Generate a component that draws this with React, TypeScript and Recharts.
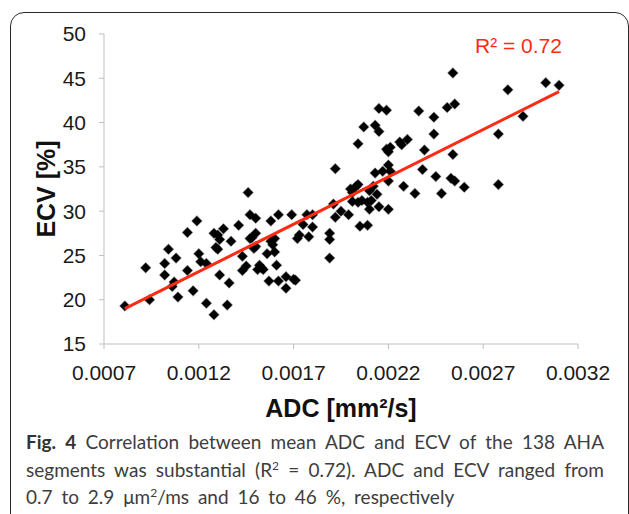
import { Label, Scatter, ScatterChart, XAxis, YAxis } from 'recharts'

// ADC [mm²/s] of each segment
const adc = [
  0.00081, 0.00092, 0.00094, 0.00102, 0.00102, 0.00104, 0.00106, 0.00108, 0.00107, 0.00109,
  0.00114, 0.00114, 0.00117, 0.00119, 0.0012, 0.00121, 0.00124, 0.00124, 0.00128, 0.00128,
  0.0013, 0.0013, 0.00131, 0.00131, 0.00129, 0.00133, 0.00135, 0.00136, 0.00137, 0.00141,
  0.00143, 0.00143, 0.00145, 0.00146, 0.00147, 0.00147, 0.00148, 0.00149, 0.0015, 0.0015,
  0.0015, 0.00151, 0.00152, 0.00153, 0.00154, 0.00156, 0.00157, 0.00158, 0.00158, 0.00159,
  0.0016, 0.0016, 0.00161, 0.00162, 0.00162, 0.00166, 0.00166, 0.00169, 0.0017, 0.00171,
  0.00172, 0.00173, 0.00175, 0.00177, 0.00178, 0.0018, 0.0018, 0.00189, 0.00189, 0.00189,
  0.00191, 0.00192, 0.00192, 0.00195, 0.00199, 0.002, 0.00201, 0.00201, 0.00203, 0.00204,
  0.00204, 0.00204, 0.00205, 0.00206, 0.00207, 0.00209, 0.00209, 0.0021, 0.0021, 0.00211,
  0.00212, 0.00213, 0.00213, 0.00214, 0.00215, 0.00215, 0.00215, 0.00217, 0.00219, 0.00219,
  0.0022, 0.0022, 0.0022, 0.0022, 0.00221, 0.00221, 0.00226, 0.00227, 0.00228, 0.0023,
  0.00234, 0.00236, 0.00238, 0.00239, 0.00244, 0.00244, 0.00245, 0.00248, 0.00251, 0.00253,
  0.00254, 0.00254, 0.00255, 0.00255, 0.0026, 0.00278, 0.00278, 0.00283, 0.00291, 0.00303,
  0.0031,
]

// ECV [%] of each segment
const ecv = [
  19.3, 23.6, 20.0, 22.8, 24.1, 25.7, 21.5, 24.7, 22.0, 20.3,
  27.6, 23.3, 21.0, 28.9, 25.2, 24.3, 24.1, 19.6, 27.5, 18.3,
  27.3, 25.7, 22.8, 26.8, 25.9, 28.0, 19.4, 21.9, 26.6, 28.4,
  24.9, 23.3, 23.8, 32.1, 26.9, 29.6, 27.0, 25.8, 26.0, 27.5,
  29.2, 23.4, 23.9, 23.6, 23.4, 25.2, 22.1, 28.9, 26.6, 26.2,
  25.4, 26.9, 23.9, 29.6, 22.1, 21.3, 22.6, 29.6, 22.3, 22.2,
  26.9, 27.3, 28.5, 29.6, 27.1, 28.2, 29.6, 24.7, 26.8, 27.5,
  30.8, 34.8, 29.3, 30.0, 29.6, 32.5, 32.1, 31.1, 32.8, 33.0,
  37.6, 31.0, 28.3, 31.2, 39.5, 28.4, 31.0, 32.3, 30.2, 31.2,
  32.8, 34.3, 39.7, 31.9, 30.5, 41.6, 39.0, 34.5, 37.0, 41.4,
  36.7, 33.4, 30.2, 35.2, 37.2, 34.5, 37.8, 37.5, 32.8, 38.1,
  32.0, 41.3, 34.7, 36.9, 40.6, 38.7, 33.9, 32.0, 41.7, 33.7,
  45.6, 36.4, 42.1, 33.4, 32.7, 38.7, 33.0, 43.7, 40.7, 44.5,
  44.2,
]

// linear trend line end points
const trendAdc = [0.00081, 0.0031]
const trendEcv = [19.0, 43.5]

const xTicks = [0.0007, 0.0012, 0.0017, 0.0022, 0.0027, 0.0032]
const yTicks = [15, 20, 25, 30, 35, 40, 45, 50]

const points = adc.map((x, i) => ({ adc: x, ecv: ecv[i] }))
const trend = trendAdc.map((x, i) => ({ adc: x, ecv: trendEcv[i] }))

const arial = '"Liberation Sans", Arial, sans-serif'
const tickFont = { fontSize: 21, fill: '#1a1a1a', fontFamily: arial }

function Diamond({ cx, cy }: { cx?: number; cy?: number }) {
  if (cx == null || cy == null) return null
  const r = 5
  return (
    <path
      d={`M${cx},${cy - r}L${cx + r},${cy}L${cx},${cy + r}L${cx - r},${cy}Z`}
      fill="#000"
      stroke="rgba(0,0,0,0.35)"
      strokeWidth={1.2}
    />
  )
}

function YTitle() {
  return (
    <text
      x={46}
      y={189}
      transform="rotate(-90, 46, 189)"
      textAnchor="middle"
      dominantBaseline="central"
      fontSize={25}
      fontWeight="bold"
      fill="#111"
      fontFamily={arial}
    >
      ECV [%]
    </text>
  )
}

const sup = { fontSize: 12, lineHeight: 0 }
const captionLine = {
  height: 27.5,
  textAlign: 'justify' as const,
  whiteSpace: 'nowrap' as const,
}

export default function App() {
  return (
    <div style={{ position: 'absolute', left: 0, top: 0, width: 629, height: 514, background: '#fff', overflow: 'hidden' }}>
      <div
        style={{
          position: 'absolute', left: 10, top: 12, width: 619, height: 520,
          border: '1.5px solid #2a2a2a', borderRadius: 14, boxSizing: 'border-box',
        }}
      />
      <div style={{ position: 'absolute', left: 0, top: 0 }}>
        <ScatterChart width={629} height={430} margin={{ top: 34, right: 51, left: 0, bottom: 0 }}>
          <XAxis
            type="number"
            dataKey="adc"
            domain={[0.0007, 0.0032]}
            ticks={xTicks}
            tickFormatter={(v: number) => v.toFixed(4)}
            height={86}
            stroke="#bfbfbf"
            tickSize={5}
            tickMargin={16}
            tick={tickFont}
          >
            <Label
              value="ADC [mm²/s]"
              position="insideBottom"
              offset={13}
              style={{ fontSize: 25, fontWeight: 'bold', fill: '#111', fontFamily: arial }}
            />
          </XAxis>
          <YAxis
            type="number"
            dataKey="ecv"
            domain={[15, 50]}
            ticks={yTicks}
            width={104}
            stroke="#bfbfbf"
            tickSize={5}
            tickMargin={13}
            tick={tickFont}
          >
            <Label content={<YTitle />} />
          </YAxis>
          <Scatter data={points} shape={<Diamond />} isAnimationActive={false} />
          <Scatter
            data={trend}
            line={{ stroke: '#ff2a12', strokeWidth: 3 }}
            shape={() => <g />}
            isAnimationActive={false}
          />
        </ScatterChart>
      </div>
      <div
        style={{
          position: 'absolute', left: 475, top: 33, fontSize: 21, color: '#ff2a12',
          fontFamily: arial, lineHeight: '26px',
        }}
      >
        R² = 0.72
      </div>
      <div
        style={{
          position: 'absolute', left: 26, top: 428, width: 578, fontSize: 19, lineHeight: '27.5px',
          color: '#3d3d3d', fontFamily: 'Lato, sans-serif',
        }}
      >
        <div style={{ ...captionLine, textAlignLast: 'justify' }}>
          <b style={{ color: '#333' }}>Fig. 4</b> Correlation between mean ADC and ECV of the 138 AHA
        </div>
        <div style={{ ...captionLine, textAlignLast: 'justify' }}>
          segments was substantial (R<sup style={sup}>2</sup> = 0.72). ADC and ECV ranged from
        </div>
        <div style={{ ...captionLine, wordSpacing: 4 }}>
          0.7 to 2.9 μm<sup style={sup}>2</sup>/ms and 16 to 46 %, respectively
        </div>
      </div>
    </div>
  )
}
